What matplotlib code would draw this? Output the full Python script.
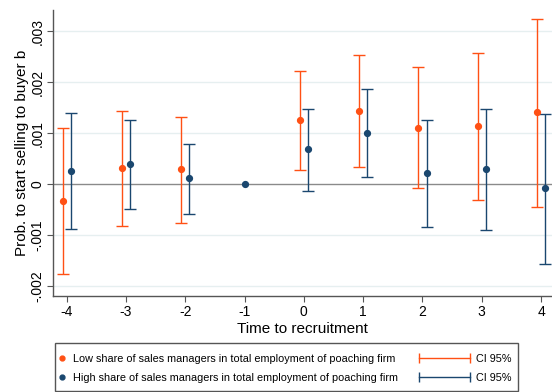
import matplotlib
matplotlib.use("Agg")
import matplotlib.pyplot as plt
from matplotlib.lines import Line2D
from matplotlib.legend_handler import HandlerLine2D
from matplotlib.patches import Rectangle
from matplotlib.ticker import FuncFormatter

plt.rcParams['font.family'] = ['Liberation Sans', 'DejaVu Sans']
plt.rcParams['axes.unicode_minus'] = False

# Periods (t = -1 is the reference period)
t = [-4, -3, -2, 0, 1, 2, 3, 4]

# Low share of sales managers (orange)
low_b = [-0.00032, 0.00031, 0.00030, 0.00127, 0.00144, 0.00111, 0.00114, 0.00142]
low_lo = [-0.00175, -0.00082, -0.00075, 0.00028, 0.00034, -0.00008, -0.00031, -0.00044]
low_hi = [0.00110, 0.00143, 0.00132, 0.00223, 0.00254, 0.00230, 0.00257, 0.00325]

# High share of sales managers (blue)
high_b = [0.00027, 0.00040, 0.00012, 0.00069, 0.00100, 0.00022, 0.00030, -0.00008]
high_lo = [-0.00087, -0.00048, -0.00058, -0.00014, 0.00014, -0.00084, -0.00089, -0.00156]
high_hi = [0.00139, 0.00127, 0.00080, 0.00148, 0.00187, 0.00127, 0.00147, 0.00138]

ref_t = [-1]
ref_b = [0]

orange = '#ff5014'
navy = '#1a476f'
off = 0.07

fig = plt.figure(figsize=(5.52, 3.92), dpi=100)
ax = fig.add_axes([0.0955, 0.2457, 0.9045, 0.7288])

# grid + zero line
for g in [-0.002, -0.001, 0.001, 0.002, 0.003]:
    ax.axhline(g, color='#e6eff0', lw=1, zorder=0)
ax.axhline(0, color='#8a8a8a', lw=1, zorder=1)

x_low = [v - off for v in t]
x_high = [v + off for v in t]
err_low = [[b - lo for b, lo in zip(low_b, low_lo)], [hi - b for b, hi in zip(low_b, low_hi)]]
err_high = [[b - lo for b, lo in zip(high_b, high_lo)], [hi - b for b, hi in zip(high_b, high_hi)]]

ax.errorbar(x_low, low_b, yerr=err_low, fmt='none', ecolor=orange, elinewidth=1,
            capsize=4.5, capthick=1, zorder=2)
ax.errorbar(x_high, high_b, yerr=err_high, fmt='none', ecolor=navy, elinewidth=1,
            capsize=4.5, capthick=1, zorder=2)
ax.plot(x_low, low_b, 'o', color=orange, ms=4.2, zorder=3)
ax.plot(x_high, high_b, 'o', color=navy, ms=4.2, zorder=3)
ax.plot(ref_t, ref_b, 'o', color=navy, ms=4.2, zorder=3)

ax.set_xlim(-4.236, 4.185)
ax.set_ylim(-0.002184, 0.003418)
ax.set_xticks([-4, -3, -2, -1, 0, 1, 2, 3, 4])
ax.set_yticks([-0.002, -0.001, 0, 0.001, 0.002, 0.003])


def stata_fmt(v, pos):
    if abs(v) < 1e-12:
        return '0'
    return f'{v:.3f}'.replace('0.', '.')


ax.yaxis.set_major_formatter(FuncFormatter(stata_fmt))
for lab in ax.get_yticklabels():
    lab.set_rotation(90)
    lab.set_va('center')
ax.tick_params(axis='both', labelsize=10, length=4, width=0.8, color='#555555', pad=3)
ax.tick_params(axis='y', pad=2)

for s in ['top', 'right']:
    ax.spines[s].set_visible(False)
for s in ['left', 'bottom']:
    ax.spines[s].set_color('#555555')
    ax.spines[s].set_linewidth(1)

ax.set_xlabel('Time to recruitment', fontsize=11, labelpad=2)
ax.set_ylabel('Prob. to start selling to buyer b', fontsize=11, labelpad=1)

# legend
h_low = Line2D([], [], marker='o', color=orange, ls='none', ms=3.5)
h_high = Line2D([], [], marker='o', color=navy, ls='none', ms=3.5)
ci_low = Line2D([], [], color=orange, lw=1, marker='|', ms=7, mew=1)
ci_high = Line2D([], [], color=navy, lw=1, marker='|', ms=7, mew=1)

leg1 = fig.legend([h_low, h_high],
                  ['Low share of sales managers in total employment of poaching firm',
                   'High share of sales managers in total employment of poaching firm'],
                  loc='center left', bbox_to_anchor=(0.1045, 0.0603), frameon=False,
                  fontsize=7.8, handlelength=0.72, handletextpad=0.65, borderpad=0,
                  borderaxespad=0, labelspacing=0.78)
leg2 = fig.legend([ci_low, ci_high], ['CI 95%', 'CI 95%'],
                  loc='center left', bbox_to_anchor=(0.759, 0.0603), frameon=False,
                  fontsize=7.8, handlelength=4.7, handletextpad=0.6, borderpad=0,
                  borderaxespad=0, labelspacing=0.78,
                  handler_map={ci_low: HandlerLine2D(numpoints=2, marker_pad=0),
                               ci_high: HandlerLine2D(numpoints=2, marker_pad=0)})

fig.patches.append(Rectangle((54.7 / 552, 1 - 390.7 / 392), (518 - 54.7) / 552, 47.7 / 392,
                             transform=fig.transFigure, fill=False, ec='#555555', lw=1))

fig.savefig('out.png', dpi=100)
